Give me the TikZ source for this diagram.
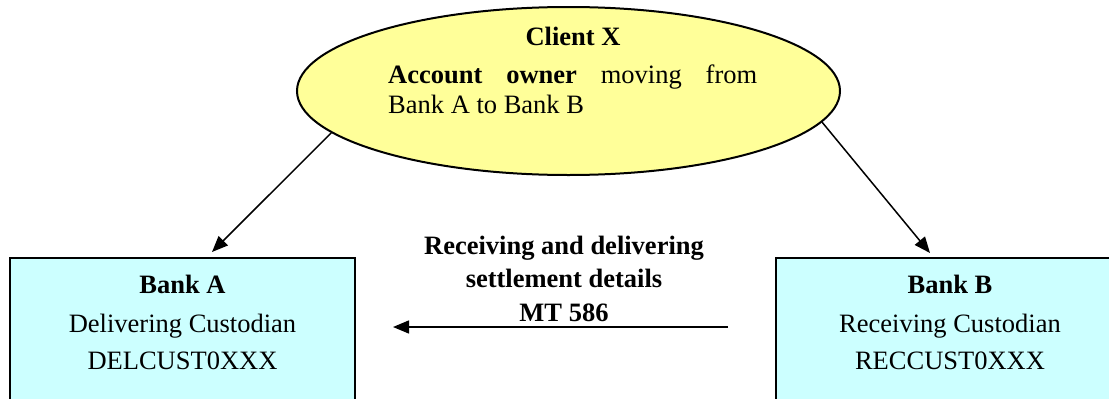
\documentclass[tikz,border=0pt]{standalone}
\usepackage{fontspec}
\setmainfont{Liberation Serif}
\usetikzlibrary{shapes.geometric,arrows.meta}
\definecolor{ellfill}{HTML}{FFFF99}
\definecolor{boxfill}{HTML}{CCFFFF}
\tikzset{
  txt/.style={font=\fontsize{26.5}{30}\selectfont, inner sep=0pt, anchor=base},
  bold/.style={txt, font=\fontsize{26.5}{30}\selectfont\bfseries},
  bankbox/.style={draw, line width=1.5pt, fill=boxfill, minimum height=180pt, anchor=north, inner sep=0pt},
  conn/.style={line width=1.5pt, -{Triangle[length=16pt,width=13pt]}}
}
\begin{document}
\begin{tikzpicture}[x=1pt,y=-1pt]
\useasboundingbox (0,0) rectangle (1109,399);
\clip (0,0) rectangle (1109,399);
% client ellipse
\node[ellipse, draw, line width=2pt, fill=ellfill, minimum width=543pt, minimum height=168pt, inner sep=0pt] (client) at (568.5,91) {};
\node[bold] (clientTitle) at (573,45) {Client X};
\node[txt, anchor=base west] (clientText) at (388,83)
  {\parbox[t]{369pt}{\fontsize{26.5}{30}\selectfont\textbf{Account owner} moving from Bank A to Bank B}};
% bank boxes
\node[bankbox, minimum width=345pt] (bankA) at (182.5,257) {};
\node[bold] (bankAtitle) at (182.5,293) {Bank A};
\node[txt] (bankArole) at (182.5,332) {Delivering Custodian};
\node[txt] (bankAbic) at (182.5,369) {DELCUST0XXX};
\node[bankbox, minimum width=348pt] (bankB) at (950,257) {};
\node[bold] (bankBtitle) at (950,293) {Bank B};
\node[txt] (bankBrole) at (950,332) {Receiving Custodian};
\node[txt] (bankBbic) at (950,369) {RECCUST0XXX};
% message label
\node[bold] (msg1) at (564,254) {Receiving and delivering};
\node[bold] (msg2) at (564,287) {settlement details};
\node[bold] (msg3) at (564,321) {MT 586};
% connectors
\coordinate (tipA) at (212,252);
\coordinate (tipB) at (930,253);
\coordinate (msgStart) at (728,327);
\coordinate (msgEnd) at (393,327);
\draw[conn] (client.190) -- (tipA);
\draw[conn] (client.353) -- (tipB);
\draw[conn] (msgStart) -- (msgEnd);
\end{tikzpicture}
\end{document}
